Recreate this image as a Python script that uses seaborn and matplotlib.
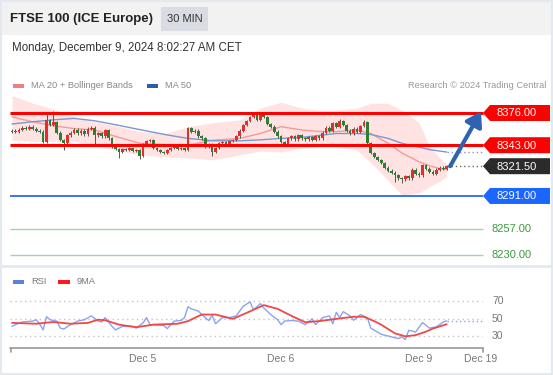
import numpy as np
import pandas as pd
import seaborn as sns
import matplotlib
matplotlib.use("Agg")
from matplotlib import pyplot as plt
from matplotlib.patches import Rectangle, Polygon

# ---- data (30 min bars, Dec 4 -> Dec 9 morning) ----
closes = [8358, 8357, 8359, 8361, 8360, 8362, 8360, 8358, 8357, 8346,
          8369, 8364, 8367, 8356, 8348, 8345, 8353, 8356, 8359, 8355,
          8358, 8354, 8360, 8361, 8353, 8355, 8352, 8358.5, 8350, 8341.5,
          8339, 8336, 8339, 8338, 8340, 8337, 8338, 8332, 8344, 8347,
          8348, 8340, 8338, 8336, 8335, 8338, 8340, 8341, 8339, 8340,
          8338, 8360.5, 8357, 8358, 8352, 8350, 8341.5, 8344, 8336, 8340,
          8345, 8346, 8344, 8347, 8348, 8352, 8358, 8364, 8368, 8372,
          8374, 8369, 8375, 8372, 8365, 8362, 8357, 8352, 8346, 8344,
          8350, 8352, 8349, 8353, 8350, 8349, 8351, 8348, 8352, 8350,
          8356, 8361, 8358, 8366, 8362, 8368, 8364, 8358, 8355, 8360,
          8357, 8363, 8367, 8345, 8335, 8331, 8328, 8325, 8320, 8317,
          8315, 8312, 8309, 8308, 8311, 8309, 8318, 8314, 8312, 8323,
          8319, 8316, 8314, 8318, 8320, 8319, 8321.5]
first_open = 8357
high_marks = {10: 8377, 12: 8378.5, 72: 8377, 95: 8370, 102: 8369}
low_marks = {15: 8338, 24: 8343, 31: 8330, 37: 8329, 58: 8332, 111: 8305, 113: 8304}

ind_bar = [0, 6, 12, 18, 24, 30, 37, 45, 51, 58, 66, 72, 78, 84, 89, 94,
           100, 104, 109, 113, 118, 121, 124, 126]
ma50 = [8364.7, 8367, 8369, 8370.5, 8368, 8364, 8359, 8353.5, 8350, 8347.6,
        8347.5, 8348.5, 8350, 8351, 8353, 8355, 8355, 8354, 8350, 8345,
        8341, 8338.5, 8337, 8336]
ma20 = [8372, 8367, 8363, 8360, 8358.6, 8352, 8345, 8343.5, 8343, 8348,
        8350, 8355, 8362, 8358.6, 8357, 8357, 8358.6, 8355, 8345, 8335,
        8326, 8322, 8319, 8318]
bb_up = [8394, 8386, 8380, 8372, 8367, 8363, 8357, 8355.5, 8362, 8366,
         8369, 8381, 8387, 8381, 8379, 8379, 8381, 8386, 8386, 8379,
         8366, 8341.5, 8330, 8323]
bb_low = [8348, 8347, 8347, 8347, 8343, 8338, 8333, 8331, 8330, 8328,
          8333, 8337, 8336, 8340, 8341.5, 8341.5, 8338, 8325, 8307, 8292,
          8294, 8300.5, 8306, 8311]

rsi_bar = [0, 1, 3, 6, 7, 8, 9, 10, 11, 13, 14, 15, 17, 19, 21, 23, 25, 26,
           27, 29, 30, 32, 35, 36, 38, 39, 40, 44, 45, 47, 49, 50, 51, 52,
           54, 55, 57, 58, 59, 61, 63, 65, 67, 69, 70, 72, 73, 75, 77, 78,
           79, 81, 83, 85, 87, 88, 90, 92, 93, 94, 95, 96, 98, 99, 101, 103,
           104, 107, 110, 112, 113, 114, 115, 117, 119, 121, 123, 125, 126]
rsi = [41, 43, 46, 47, 48.6, 44, 37, 52, 48.6, 47, 39, 38, 43, 47, 48.6, 53,
       47, 46, 51, 41, 37, 41, 41, 39, 45, 51, 43, 42, 38.5, 47, 47.7, 51,
       63.4, 61, 58.5, 54.5, 47.7, 53.5, 44, 51, 51, 53, 64, 69, 60, 67, 62,
       54.5, 48.6, 43, 47, 47.7, 47, 43, 49.6, 43, 51, 53, 44, 57, 51, 57.8,
       53, 48, 54.5, 51, 39, 32, 29, 27, 29, 26, 36.5, 34.6, 45.4, 39, 40.4,
       46, 47.3]
rsi_ma_bar = [0, 7, 12, 17, 22, 25, 27, 31, 36, 41, 48, 51, 55, 59, 64, 68,
              73, 77, 81, 85, 89, 94, 99, 102, 105, 107, 111, 114, 117, 120,
              122, 126]
rsi_ma = [45, 44, 46, 44, 45, 48.6, 48, 43, 40, 43, 44, 47, 54.5, 54.5, 49.6,
          56.4, 65.3, 61, 53, 45.7, 47, 49.6, 52, 52, 47, 43, 33, 29.6, 31, 35,
          38.5, 43.5]

resistances = [8376, 8343]
support = 8291
targets = [8257, 8230]
day_start = [38, 78, 118]
day_labels = ["Dec 5", "Dec 6", "Dec 9"]

W, H = 553, 375
BAR0, STEP = 12, 3.45   # pixel of first bar, pixels per bar


def bar_at(px):
    return (px - BAR0) / STEP


sns.set_theme(style="white")
plt.rcParams['font.family'] = ['Liberation Sans', 'DejaVu Sans']

fig = plt.figure(figsize=(W / 100, H / 100), dpi=100)
fig.patch.set_facecolor("white")


def px_axes(x0, y0, x1, y1, **kw):
    return fig.add_axes([x0 / W, 1 - y1 / H, (x1 - x0) / W, (y1 - y0) / H], **kw)


# overlay in pixel coords for header, legend, boxes
bg = px_axes(0, 0, W, H, zorder=0)
bg.set_xlim(0, W)
bg.set_ylim(H, 0)
bg.axis("off")
bg.add_patch(Rectangle((0, 0), W, 35, color="#f2f2f2", lw=0))
bg.add_patch(Rectangle((1, 1), W - 2, H - 2, fill=False, ec="#e4e9ef", lw=1.5))
bg.plot([0, W], [266, 266], color="#e4e9ef", lw=2)
bg.add_patch(Rectangle((161, 7), 47, 24, color="#d9dde3", lw=0))
bg.text(10, 19, "FTSE 100 (ICE Europe)", fontsize=9.5, weight="bold", color="#222222", va="center")
bg.text(184.5, 19, "30 MIN", fontsize=8, color="#333333", va="center", ha="center")
bg.text(12, 48, "Monday, December 9, 2024 8:02:27 AM CET", fontsize=8.3, color="#333333", va="center")
bg.add_patch(Rectangle((13, 84), 11, 4, color="#f08080", lw=0))
bg.text(31, 86, "MA 20 + Bollinger Bands", fontsize=6.7, color="#888888", va="center")
bg.add_patch(Rectangle((147, 84), 11, 4, color="#2f5ea8", lw=0))
bg.text(165, 86, "MA 50", fontsize=6.7, color="#888888", va="center")
bg.text(546, 86, "Research \u00a9 2024 Trading Central", fontsize=6.7, color="#999999", va="center", ha="right")
bg.add_patch(Rectangle((13, 280), 11, 4, color="#5b80e0", lw=0))
bg.text(31, 282, "RSI", fontsize=6.7, color="#777777", va="center")
bg.add_patch(Rectangle((58, 280), 12, 4, color="#ff1a1a", lw=0))
bg.text(77, 282, "9MA", fontsize=6.7, color="#777777", va="center")

# ---- main price panel ----
ax = px_axes(0, 92, W, 262, zorder=1)
ax.patch.set_alpha(0)
ax.set_xlim(bar_at(0), bar_at(W))
ax.set_ylim(8376 - (262 - 113) / 0.976, 8376 - (92 - 113) / 0.976)
ax.axis("off")

df = pd.DataFrame({"close": closes})
df["open"] = df["close"].shift(1).fillna(first_open)
df["high"] = df[["open", "close"]].max(axis=1) + 1.2
df["low"] = df[["open", "close"]].min(axis=1) - 1.2
for k, v in high_marks.items():
    df.loc[k, "high"] = v
for k, v in low_marks.items():
    df.loc[k, "low"] = v
n = len(df)
xs = np.arange(n)

ind = pd.DataFrame({"bar": ind_bar, "ma50": ma50, "ma20": ma20, "up": bb_up, "low": bb_low})
ax.fill_between(ind["bar"], ind["low"], ind["up"], color="#ffe3e3", lw=0, zorder=1)
sns.lineplot(data=ind, x="bar", y="ma20", ax=ax, color="#f59a9a", lw=1, zorder=2)
sns.lineplot(data=ind, x="bar", y="ma50", ax=ax, color="#7d98cc", lw=1, zorder=2)
ax.axis("off")

up = df["close"] >= df["open"]
cols = np.where(up, "#e0302e", "#2e7d32")
body = (df["close"] - df["open"]).where(lambda s: s.abs() > 0.6, 0.6)
ax.vlines(xs, df["low"], df["high"], color="#555555", lw=0.7, zorder=3)
ax.bar(xs, body, bottom=df["open"], width=0.8, color=cols, lw=0, zorder=4)

x_left, x_right = bar_at(10), bar_at(483)
for lvl in resistances:
    ax.hlines(lvl, x_left, x_right, color="#ff0000", lw=2.2, zorder=5)
ax.hlines(support, x_left, x_right, color="#2a6af0", lw=1.3, zorder=5)
for lvl in targets:
    ax.hlines(lvl, x_left, x_right, color="#a3d6a3", lw=1.0, zorder=5)

ax.hlines(ma50[-1], n - 1, bar_at(482), color="#7d98cc", lw=1, linestyles=(0, (1, 2)), zorder=2)
ax.hlines(closes[-1], n - 1, bar_at(483), color="#666666", lw=1, linestyles=(0, (1, 2)), zorder=2)

ax.annotate("", xy=(bar_at(481), resistances[0] + 1.5), xytext=(n, closes[-1]),
            arrowprops=dict(arrowstyle="-|>,head_length=0.7,head_width=0.45", lw=3,
                            color="#2f63b0", shrinkA=0, shrinkB=0), zorder=6)


def py(level):
    return H - ax.transData.transform((0, level))[1]


def tag(level, text, face, fg="white"):
    y = py(level)
    bg.add_patch(Polygon([(483, y), (490, y - 8), (550, y - 8), (550, y + 8), (490, y + 8)],
                         closed=True, color=face, lw=0, zorder=7))
    bg.text(517, y + 0.5, text, fontsize=8, color=fg, ha="center", va="center", zorder=8)


bg.set_zorder(2)
bg.patch.set_alpha(0)
for lvl in resistances:
    tag(lvl, f"{lvl:.2f}", "#ff0000")
tag(closes[-1], f"{closes[-1]:.2f}", "#2b2b2b")
tag(support, f"{support:.2f}", "#1a66ff")
for lvl in targets:
    bg.text(492, py(lvl), f"{lvl:.2f}", fontsize=8, color="#3d9a3d", va="center")

# ---- RSI panel ----
ar = px_axes(0, 290, W, 350, zorder=1)
ar.patch.set_alpha(0)
ar.set_xlim(bar_at(0), bar_at(W))
ar.set_ylim(70 - (350 - 301) / 0.875, 70 + (301 - 290) / 0.875)
for lvl in [70, 50, 30]:
    ar.hlines(lvl, bar_at(10), bar_at(482), color="#c4c4c4", lw=1, linestyles=(0, (1, 2.5)))
    ar.text(bar_at(492), lvl, str(lvl), fontsize=7.5, color="#777777", va="center")
sns.lineplot(x=rsi_bar, y=rsi, ax=ar, color="#8aa4f0", lw=1)
sns.lineplot(x=rsi_ma_bar, y=rsi_ma, ax=ar, color="#f04848", lw=1.3)
ar.hlines(rsi[-1], rsi_bar[-1], bar_at(482), color="#8aa4f0", lw=1, linestyles=(0, (1, 2)))
ar.axis("off")

bg.plot([10, 483], [347.5, 347.5], color="#9a9a9a", lw=1.2, zorder=3)
bg.plot([10.5, 10.5], [347.5, 352], color="#9a9a9a", lw=1.2, zorder=3)
bg.plot([482.5, 482.5], [347.5, 352], color="#9a9a9a", lw=1.2, zorder=3)
for b, lab in zip(day_start, day_labels):
    bg.text(BAR0 + STEP * b, 359, lab, fontsize=7.5, color="#777777", ha="center", va="center")
bg.text(481, 359, "Dec 19", fontsize=7.5, color="#777777", ha="center", va="center")

fig.savefig("out.png", dpi=100, facecolor="white")
